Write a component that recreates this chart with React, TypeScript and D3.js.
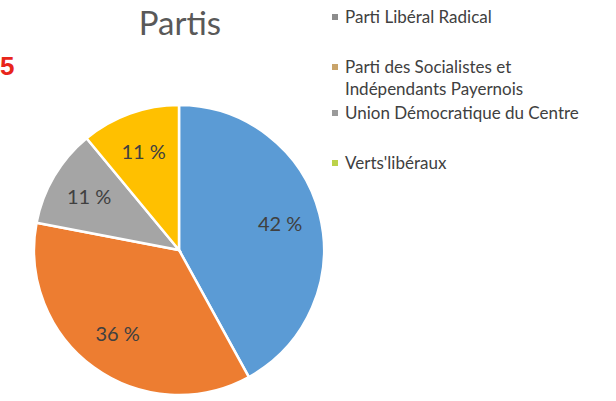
import React, { useEffect, useRef } from "react"
import * as d3 from "d3"

const parties = [
  "Parti Libéral Radical",
  "Parti des Socialistes et Indépendants Payernois",
  "Union Démocratique du Centre",
  "Verts'libéraux",
]
const shares = [42, 36, 11, 11]
const sliceColors = ["#5b9bd5", "#ed7d31", "#a5a5a5", "#ffc000"]
const legendColors = ["#8c8c8c", "#c9a46a", "#9a9a9a", "#bcd24a"]
const legendLines = [
  ["Parti Libéral Radical"],
  ["Parti des Socialistes et", "Indépendants Payernois"],
  ["Union Démocratique du Centre"],
  ["Verts'libéraux"],
]

const App = () => {
  const ref = useRef<SVGSVGElement>(null)

  useEffect(() => {
    const svg = d3.select(ref.current)
    svg.selectAll("*").remove()
    const width = 616
    const height = 401
    const font = "Lato, 'Open Sans', sans-serif"

    svg.append("rect").attr("width", width).attr("height", height).attr("fill", "#ffffff")

    // stray page number on the left
    svg.append("text")
      .attr("x", 0).attr("y", 75)
      .attr("font-family", "'Liberation Sans', Arial, sans-serif")
      .attr("font-weight", "bold")
      .attr("font-size", 26)
      .attr("fill", "#e8251b")
      .text("5")

    svg.append("text")
      .attr("x", 180).attr("y", 35)
      .attr("text-anchor", "middle")
      .attr("font-family", font)
      .attr("font-size", 33)
      .attr("fill", "#595959")
      .text("Partis")

    const cx = 179, cy = 250, r = 145
    const data = parties.map((p, i) => ({ name: p, value: shares[i], color: sliceColors[i] }))
    const pie = d3.pie<any>().value(d => d.value).sort(null)
    const arc = d3.arc<any>().innerRadius(0).outerRadius(r)
    const labelArc = d3.arc<any>().innerRadius(r * 0.72).outerRadius(r * 0.72)

    const g = svg.append("g").attr("transform", `translate(${cx},${cy})`)
    const arcs = pie(data)
    g.selectAll("path")
      .data(arcs)
      .enter().append("path")
      .attr("d", arc)
      .attr("fill", d => d.data.color)
      .attr("stroke", "#ffffff")
      .attr("stroke-width", 2.5)

    g.selectAll("text.lbl")
      .data(arcs)
      .enter().append("text")
      .attr("class", "lbl")
      .attr("transform", d => `translate(${labelArc.centroid(d)})`)
      .attr("text-anchor", "middle")
      .attr("dy", "0.35em")
      .attr("font-family", font)
      .attr("font-size", 20)
      .attr("fill", "#404040")
      .text(d => `${d.data.value} %`)

    // legend
    const legendY = [17, 67, 113, 163]
    const legend = svg.append("g")
    legendLines.forEach((lines, i) => {
      legend.append("rect")
        .attr("x", 332).attr("y", legendY[i] - 3)
        .attr("width", 6).attr("height", 6)
        .attr("fill", legendColors[i])
      lines.forEach((line, j) => {
        legend.append("text")
          .attr("x", 345).attr("y", legendY[i] + j * 22)
          .attr("dy", "0.35em")
          .attr("font-family", font)
          .attr("font-size", 17)
          .attr("fill", "#404040")
          .text(line)
      })
    })
  }, [])

  return <svg ref={ref} width={616} height={401} style={{ display: "block", position: "absolute", left: 0, top: 0 }} />
}

export default App
